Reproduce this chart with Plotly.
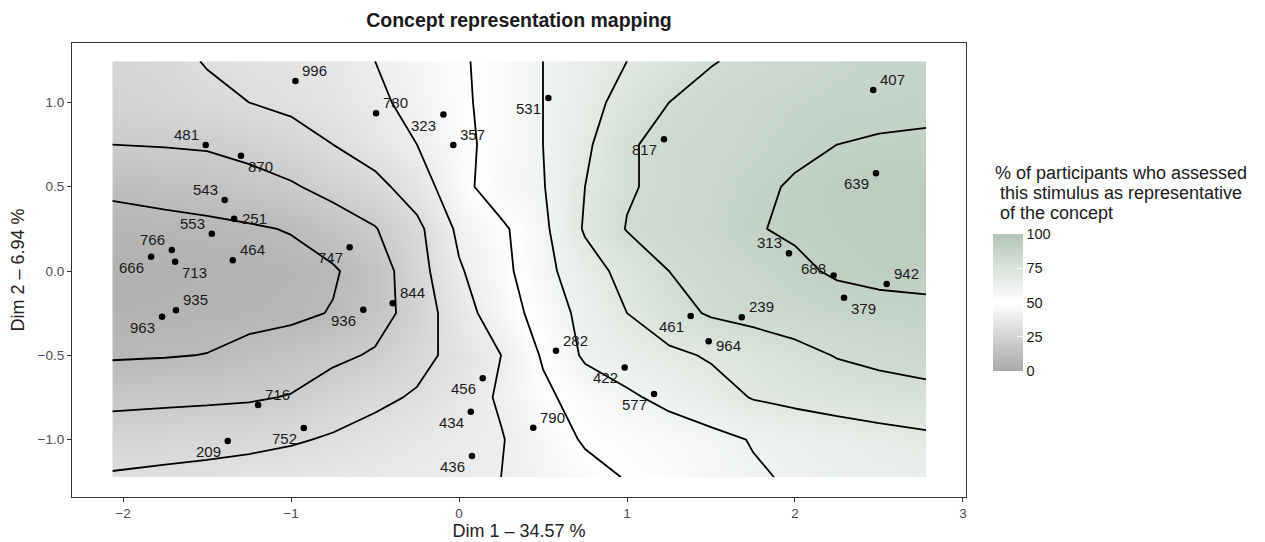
import plotly.graph_objects as go
import numpy as np

# ---- estimated surface (% of participants) ----
grid_x = [-2.064, -1.75, -1.5, -1.25, -1.0, -0.75, -0.5, -0.25, 0.0, 0.25,
          0.5, 0.75, 1.0, 1.25, 1.5, 1.75, 2.0, 2.25, 2.5, 2.78]
grid_y = [1.245, 1.0, 0.75, 0.5, 0.25, 0.0, -0.25, -0.5, -0.75, -1.0, -1.224]

row_p1245 = [26, 27.5, 30.5, 32.5, 34, 35.5, 40, 44, 48.5, 54, 60, 65, 70, 75, 79.5, 82, 84, 86, 87, 88]
row_p100 = [24, 26, 28, 30, 32, 34.5, 38, 43, 48, 54, 60, 66, 74, 80, 83, 85, 86.5, 87.5, 88, 88.5]
row_p075 = [20, 20.5, 21, 23, 26, 30, 35, 40, 47, 54, 60, 68, 79, 82.5, 84, 86, 88, 90, 90.7, 91]
row_p050 = [11.5, 13, 14.5, 16.5, 19, 23, 27, 35, 46.5, 56, 59.5, 70, 79, 82.5, 85, 88, 91, 92.5, 93.5, 94]
row_p025 = [7, 7.5, 8, 9, 10.5, 15, 19.5, 27.5, 42, 48, 58, 71, 80.5, 83, 85.5, 89.5, 91, 92, 93, 93.5]
row_000 = [5, 5, 5.5, 6, 7, 9, 15, 26, 39, 47, 57, 66, 73, 80, 83, 85.5, 88.5, 91, 92, 92.5]
row_m025 = [5.5, 6, 6.5, 7, 8, 10.5, 16, 24, 36, 45, 54, 63, 70, 76.5, 81, 83, 85, 86.5, 87.5, 88]
row_m050 = [9, 9.5, 10.2, 13, 15, 18, 21, 27, 33, 40, 51, 61.5, 65, 68, 71, 74, 77, 80.5, 82.5, 84]
row_m075 = [17.5, 18, 18.5, 19, 20.5, 25, 28, 31, 36, 41, 48, 54, 58.5, 62.5, 66, 70.5, 72.5, 74, 75.5, 77]
row_m100 = [25, 26, 26.5, 27.5, 29, 31, 33.5, 36, 38, 39.5, 45, 51, 53, 55, 57.5, 60.5, 63, 65, 66.5, 68]
row_m1224 = [31, 32, 33, 34, 35, 36, 37, 38, 39, 40, 44, 47, 50.5, 53.5, 56.5, 59, 61, 62.5, 64, 65]

# ---- stimuli ----
stim_ids = ["996", "780", "323", "357", "481", "870", "543", "251", "553", "766",
            "666", "713", "464", "747", "935", "963", "936", "844", "716", "752",
            "209", "456", "434", "436", "531", "817", "407", "639", "313", "688",
            "942", "379", "239", "461", "964", "282", "422", "577", "790"]
stim_x = [-0.974, -0.494, -0.093, -0.034, -1.508, -1.298, -1.395, -1.339, -1.472, -1.710,
          -1.833, -1.690, -1.347, -0.651, -1.685, -1.768, -0.570, -0.395, -1.196, -0.924,
          -1.377, 0.141, 0.070, 0.077, 0.532, 1.220, 2.466, 2.482, 1.964, 2.230,
          2.546, 2.292, 1.683, 1.379, 1.486, 0.577, 0.986, 1.161, 0.442]
stim_y = [1.128, 0.936, 0.928, 0.748, 0.748, 0.684, 0.421, 0.310, 0.221, 0.125,
          0.085, 0.055, 0.064, 0.141, -0.233, -0.271, -0.230, -0.192, -0.795, -0.932,
          -1.009, -0.637, -0.835, -1.098, 1.027, 0.782, 1.074, 0.580, 0.105, -0.026,
          -0.077, -0.158, -0.275, -0.267, -0.417, -0.473, -0.572, -0.730, -0.930]
label_side = ["tr", "tr", "bl", "tr", "tl", "br", "tl", "r", "tl", "tl",
              "bl", "br", "tr", "bl", "tr", "bl", "bl", "tr", "tr", "bl",
              "bl", "bl", "bl", "bl", "bl", "bl", "tr", "bl", "tl", "l",
              "tr", "br", "tr", "bl", "r2", "tr", "bl", "bl", "tr"]

x_ticks = [-2, -1, 0, 1, 2, 3]
y_ticks = [-1.0, -0.5, 0.0, 0.5, 1.0]
legend_ticks = [0, 25, 50, 75, 100]
legend_title_lines = ["% of participants who assessed",
                      "\u00a0this stimulus as representative",
                      "\u00a0of the concept"]

z_rows = [row_p1245, row_p100, row_p075, row_p050, row_p025, row_000,
          row_m025, row_m050, row_m075, row_m100, row_m1224]
z = np.array(z_rows)[::-1]
gy = np.array(grid_y)[::-1]

FONT = "Liberation Sans, Arial, Helvetica, sans-serif"
CSCALE = [[0.0, "#A9A9A9"], [0.5, "#FFFFFF"], [1.0, "#B2C6B6"]]

fig = go.Figure()
fig.add_trace(go.Contour(
    x=grid_x, y=gy, z=z,
    zmin=0, zmax=100, zauto=False,
    colorscale=CSCALE, showscale=False,
    contours=dict(start=10, end=90, size=10, coloring="heatmap", showlabels=False),
    line=dict(color="black", width=1.8, smoothing=0),
    hoverinfo="skip",
))

# colour key (own trace so the key has no contour lines)
fig.add_trace(go.Scatter(
    x=[stim_x[0]], y=[stim_y[0]], mode="markers", hoverinfo="skip", showlegend=False,
    marker=dict(size=0.1, opacity=0, color=[legend_ticks[0]], cmin=0, cmax=100,
                colorscale=CSCALE, showscale=True,
                colorbar=dict(
                    thickness=30, thicknessmode="pixels",
                    len=137, lenmode="pixels",
                    x=(993 - 72) / 894, xanchor="left", xpad=0,
                    y=(497 - 302.5) / 454, yanchor="middle", ypad=0,
                    outlinewidth=0,
                    tickvals=legend_ticks, ticks="inside", ticklen=6,
                    tickcolor="white", tickwidth=1,
                    tickfont=dict(family=FONT, size=14.5, color="#1a1a1a"),
                )),
))

fig.add_trace(go.Scatter(
    x=stim_x, y=stim_y, mode="markers",
    marker=dict(color="black", size=6.5),
    hoverinfo="skip", showlegend=False,
))

shift = {"tr": (19.5, 10.5), "tl": (-19.5, 10.5), "bl": (-19.5, -10.5),
         "br": (19.5, -10.5), "r": (20, 0), "r2": (20, -4), "l": (-20, 7)}
annotations = []
for sid, sx, sy, side in zip(stim_ids, stim_x, stim_y, label_side):
    dx, dy = shift[side]
    annotations.append(dict(x=sx, y=sy, xref="x", yref="y", text=sid, showarrow=False,
                            xshift=dx, yshift=dy, xanchor="center", yanchor="middle",
                            font=dict(family=FONT, size=15, color="#1a1a1a")))

for i, line in enumerate(legend_title_lines):
    annotations.append(dict(x=(993 - 72) / 894, y=(497 - (173 + 20 * i)) / 454,
                            xref="paper", yref="paper", text=line, showarrow=False,
                            xanchor="left", yanchor="middle",
                            font=dict(family=FONT, size=18, color="#1a1a1a")))

fig.update_layout(
    width=1265, height=542,
    margin=dict(l=72, r=299, t=43, b=45),
    paper_bgcolor="white", plot_bgcolor="white",
    font=dict(family=FONT),
    title=dict(text="<b>Concept representation mapping</b>", x=519 / 1265, xanchor="center",
               xref="container", y=1 - 20 / 542, yanchor="middle", yref="container",
               font=dict(family=FONT, size=19.5, color="#1a1a1a")),
    annotations=annotations,
    showlegend=False,
)
axis_common = dict(showgrid=False, zeroline=False, showline=True, linecolor="#333333",
                   linewidth=1.1, mirror=True, ticks="outside", ticklen=4,
                   tickcolor="#333333", tickwidth=1.1, automargin=False,
                   tickfont=dict(family=FONT, size=13.5, color="#4D4D4D"))
fig.update_xaxes(range=[-2.304, 3.018], tickvals=x_ticks,
                 title=dict(text="Dim 1 \u2013 34.57 %", standoff=4,
                            font=dict(family=FONT, size=18, color="#222222")),
                 **axis_common)
fig.update_yaxes(range=[-1.341, 1.353], tickvals=y_ticks, tickformat=".1f",
                 title=dict(text="Dim 2 \u2013 6.94 %", standoff=8,
                            font=dict(family=FONT, size=18, color="#222222")),
                 **axis_common)

fig.write_html("out.html", config={"displayModeBar": False},
               post_script="document.body.style.margin='0';")
